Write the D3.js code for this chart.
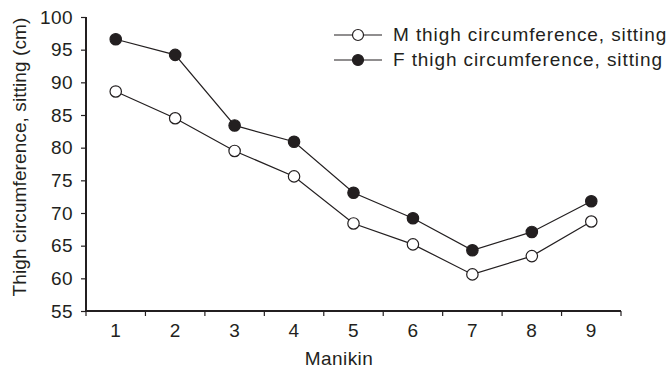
<!DOCTYPE html>
<html>
<head>
<meta charset="utf-8">
<script src="https://cdn.jsdelivr.net/npm/d3@7"></script>
<style>
  body { margin: 0; background: #fff; }
  text { font-family: "Liberation Sans", Arial, sans-serif; fill: #231f20; }
</style>
</head>
<body>
<svg id="chart" width="672" height="374"></svg>
<script>
// 1. Data
var manikins = ["1", "2", "3", "4", "5", "6", "7", "8", "9"];
var maleThigh = [88.6, 84.5, 79.5, 75.6, 68.4, 65.2, 60.6, 63.4, 68.7];
var femaleThigh = [96.6, 94.2, 83.4, 80.9, 73.1, 69.2, 64.3, 67.1, 71.8];
var yTicks = [55, 60, 65, 70, 75, 80, 85, 90, 95, 100];

var series = [
    { name: "M thigh circumference, sitting", values: maleThigh, fill: "#fff" },
    { name: "F thigh circumference, sitting", values: femaleThigh, fill: "#231f20" }
];

// 2. Scales
var svg = d3.select("#chart");
var plotLeft = 86, plotRight = 621, plotTop = 17, plotBottom = 311;
var ink = "#231f20";
var fontSize = "19px", spacing = "0.4px";

var x = d3.scaleBand().domain(manikins).range([plotLeft, plotRight]);
var y = d3.scaleLinear().domain([55, 100]).range([plotBottom, plotTop]);

// 3. Axes
var yAxis = svg.append("g")
    .attr("transform", "translate(" + plotLeft + ",0)")
    .call(d3.axisLeft(y).tickValues(yTicks).tickSize(5).tickPadding(8));

var xAxis = svg.append("g")
    .attr("transform", "translate(0," + plotBottom + ")")
    .call(d3.axisBottom(x).tickSize(0).tickPadding(13));

// tick marks sit at the band edges
xAxis.selectAll(".edge")
    .data(manikins.concat(["end"]))
    .enter()
    .append("line")
    .attr("class", "edge")
    .attr("x1", function (d, i) { return plotLeft + i * x.step() })
    .attr("x2", function (d, i) { return plotLeft + i * x.step() })
    .attr("y1", 0)
    .attr("y2", 5)
    .attr("stroke", ink)
    .attr("stroke-width", 1.2);

[yAxis, xAxis].forEach(function (g) {
    g.select(".domain").attr("stroke", ink).attr("stroke-width", 2);
    g.selectAll(".tick line").attr("stroke", ink).attr("stroke-width", 1.2);
    g.selectAll("text")
        .style("font-size", fontSize)
        .style("letter-spacing", spacing)
        .attr("fill", ink);
});
xAxis.select(".domain").attr("d", "M" + plotLeft + ",0H" + plotRight);
yAxis.select(".domain").attr("d", "M0," + plotTop + "V" + plotBottom);

// axis titles
svg.append("text")
    .attr("x", 339)
    .attr("y", 365)
    .attr("text-anchor", "middle")
    .style("font-size", fontSize)
    .style("letter-spacing", spacing)
    .text("Manikin");

svg.append("text")
    .attr("transform", "translate(26,157) rotate(-90)")
    .attr("text-anchor", "middle")
    .style("font-size", fontSize)
    .style("letter-spacing", "0.1px")
    .text("Thigh circumference, sitting (cm)");

// 4. Lines and markers
var line = d3.line()
    .x(function (d, i) { return x(manikins[i]) + x.bandwidth() / 2 })
    .y(function (d) { return y(d) });

series.forEach(function (s) {
    svg.append("path")
        .attr("d", line(s.values))
        .attr("fill", "none")
        .attr("stroke", ink)
        .attr("stroke-width", 1.2);

    svg.selectAll(null)
        .data(s.values)
        .enter()
        .append("circle")
        .attr("cx", function (d, i) { return x(manikins[i]) + x.bandwidth() / 2 })
        .attr("cy", function (d) { return y(d) })
        .attr("r", 5.7)
        .attr("fill", s.fill)
        .attr("stroke", ink)
        .attr("stroke-width", 1.2);
});

// 5. Legend
var legend = svg.append("g").attr("transform", "translate(334,35)");
series.forEach(function (s, i) {
    var row = legend.append("g").attr("transform", "translate(0," + i * 25 + ")");
    row.append("line")
        .attr("x1", 0).attr("x2", 48).attr("y1", 0).attr("y2", 0)
        .attr("stroke", ink).attr("stroke-width", 1.2);
    row.append("circle")
        .attr("cx", 24).attr("cy", 0).attr("r", 5.5)
        .attr("fill", s.fill).attr("stroke", ink).attr("stroke-width", 1.2);
    row.append("text")
        .attr("x", 59).attr("y", 6)
        .style("font-size", fontSize)
        .style("letter-spacing", "0.9px")
        .text(s.name);
});
</script>
</body>
</html>
